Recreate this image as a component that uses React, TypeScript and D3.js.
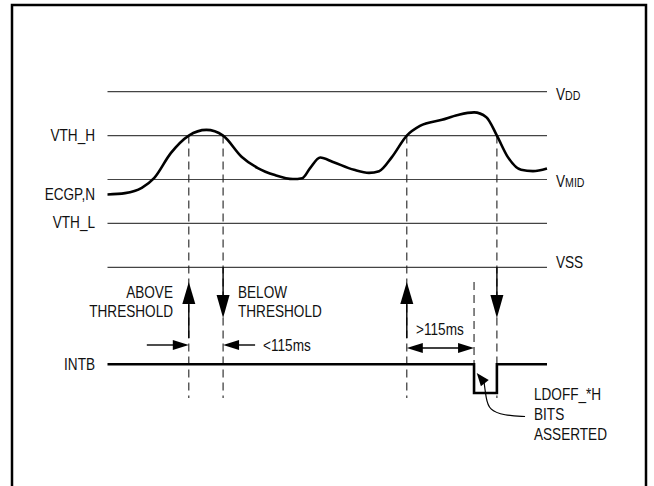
import * as d3 from 'd3';
import React from 'react';

// analog levels (arbitrary units, evenly spaced)
const levelNames = ['VSS', 'VTH_L', 'VMID', 'VTH_H', 'VDD'];
const levelValues = [0, 1, 2, 3, 4];

// ECGP,N waveform (time 0..100, level units)
const waveTime = [0, 4, 7.8, 10.6, 14.4, 18.5, 22.5, 26.3, 30.5, 34.2, 38.1, 42.2, 44.3, 46.1, 48.4, 51.3, 56.1, 59.5, 61.8, 64.7, 68.1, 71.1, 76.1, 79.7, 83.4, 86.2, 88.6, 91.1, 94.1, 96.8, 100];
const waveVolt = [1.66, 1.69, 1.81, 2.03, 2.6, 3.0, 3.13, 3.0, 2.52, 2.26, 2.1, 2.01, 2.03, 2.26, 2.5, 2.4, 2.22, 2.15, 2.19, 2.51, 3.0, 3.22, 3.36, 3.47, 3.53, 3.42, 3.0, 2.51, 2.22, 2.19, 2.25];

// INTB digital line
const intbTime = [0, 83.4, 88.6, 100];
const intbLevel = [1, 0, 1, 1];

// threshold crossings
const crossTime = [18.5, 26.3, 68.1, 88.6];
const crossDir = ['up', 'down', 'up', 'down'];
const assertTime = 83.4;

const FONT = "'Liberation Sans', Arial, sans-serif";
const SQUEEZE = 0.85; // no narrow face installed, so squeeze the regular one

// triangle with tip at (x,y), pointing along (dx,dy)
function arrowHead(x: number, y: number, dx: number, dy: number, len: number, half: number) {
  const n = Math.hypot(dx, dy);
  const ux = dx / n, uy = dy / n;
  const bx = x - ux * len, by = y - uy * len;
  const px = -uy * half, py = ux * half;
  return `M${x},${y}L${bx + px},${by + py}L${bx - px},${by - py}Z`;
}

const Label = ({ x, y, anchor = 'start', children }: { x: number, y: number, anchor?: string, children: React.ReactNode }) => (
  <g transform={`translate(${x},${y}) scale(${SQUEEZE},1)`}>
    <text x={0} y={0} fontSize={16} textAnchor={anchor} fill="#111">{children}</text>
  </g>
);

const App = () => {
  const x = d3.scaleLinear().domain([0, 100]).range([107.5, 547]);
  const y = d3.scaleLinear().domain([0, 4]).range([267.3, 91.7]);
  const yDig = d3.scaleLinear().domain([0, 1]).range([393, 364.3]);

  const wave = d3.line<number>()
    .x((d, i) => x(waveTime[i]))
    .y(d => y(d))
    .curve(d3.curveMonotoneX)(waveVolt) as string;

  const intb = d3.line<number>()
    .x((d, i) => x(intbTime[i]))
    .y(d => yDig(d))
    .curve(d3.curveStepAfter)(intbLevel) as string;

  const dashBottom = 398;
  const upTip = 282, upBase = 304, upSolidEnd = 338;
  const downTop = y(0), downBase = 295, downTip = 318;
  const hArrowY = 345, dblArrowY = 348;

  const xa = x(assertTime);
  const callout = d3.line().curve(d3.curveBasis)([
    [xa + 10, 382], [xa + 12, 398], [xa + 15, 410], [xa + 30, 415.5], [xa + 51, 416.5],
  ]) as string;

  const rightLabel = (name: string, v: number, dy: number) => {
    const sub = name === 'VDD' ? 'DD' : name === 'VMID' ? 'MID' : null;
    return (
      <Label key={name} x={556} y={y(v) + dy}>
        {sub ? <>V<tspan fontSize={12.5}>{sub}</tspan></> : name}
      </Label>
    );
  };

  return (
    <svg width={654} height={486} style={{ position: 'absolute', left: 0, top: 0 }} fontFamily={FONT}>
      <rect width={654} height={486} fill="#fff" />
      <path d="M12,486V5H646V486" fill="none" stroke="#000" strokeWidth={2.5} />

      {levelValues.map((v, i) => (
        <line key={levelNames[i]} x1={x(0)} x2={x(100)} y1={y(v)} y2={y(v)} stroke="#444" strokeWidth={1.2} />
      ))}

      {/* dashed event lines */}
      {crossTime.map(t => (
        <line key={'d' + t} x1={x(t)} x2={x(t)} y1={y(3)} y2={dashBottom} stroke="#222" strokeWidth={1.1} strokeDasharray="8,5" />
      ))}
      <line x1={xa} x2={xa} y1={upTip} y2={yDig(0)} stroke="#222" strokeWidth={1.1} strokeDasharray="8,5" />

      {/* vertical arrows */}
      {crossTime.map((t, i) => {
        const cx = x(t);
        if (crossDir[i] === 'up') {
          return (
            <g key={'a' + t}>
              <line x1={cx} x2={cx} y1={upBase} y2={upSolidEnd} stroke="#000" strokeWidth={1.4} />
              <path d={arrowHead(cx, upTip, 0, -1, upBase - upTip, 6.5)} fill="#000" />
            </g>
          );
        }
        return (
          <g key={'a' + t}>
            <line x1={cx} x2={cx} y1={downTop} y2={downBase} stroke="#000" strokeWidth={1.4} />
            <path d={arrowHead(cx, downTip, 0, 1, downTip - downBase, 6.5)} fill="#000" />
          </g>
        );
      })}

      {/* <115ms arrows */}
      <line x1={x(crossTime[0]) - 42} x2={x(crossTime[0]) - 14} y1={hArrowY} y2={hArrowY} stroke="#000" strokeWidth={1.4} />
      <path d={arrowHead(x(crossTime[0]), hArrowY, 1, 0, 16, 5)} fill="#000" />
      <line x1={x(crossTime[1]) + 14} x2={x(crossTime[1]) + 32} y1={hArrowY} y2={hArrowY} stroke="#000" strokeWidth={1.4} />
      <path d={arrowHead(x(crossTime[1]), hArrowY, -1, 0, 16, 5)} fill="#000" />
      <Label x={x(crossTime[1]) + 40} y={hArrowY + 5.5}>&lt;115ms</Label>

      {/* >115ms double arrow */}
      <line x1={x(crossTime[2]) + 14} x2={xa - 14} y1={dblArrowY} y2={dblArrowY} stroke="#000" strokeWidth={1.4} />
      <path d={arrowHead(x(crossTime[2]), dblArrowY, -1, 0, 16, 5)} fill="#000" />
      <path d={arrowHead(xa, dblArrowY, 1, 0, 16, 5)} fill="#000" />
      <Label x={(x(crossTime[2]) + xa) / 2 - 0.5} y={335} anchor="middle">&gt;115ms</Label>

      {/* signals */}
      <path d={wave} fill="none" stroke="#000" strokeWidth={2.6} />
      <path d={intb} fill="none" stroke="#000" strokeWidth={2.6} />

      {/* callout */}
      <path d={callout} fill="none" stroke="#000" strokeWidth={1.2} />
      <path d={arrowHead(xa + 2.7, 373, -7.3, -9.2, 13, 5)} fill="#000" />

      {/* left labels */}
      <Label x={95} y={y(3) + 5.5} anchor="end">VTH_H</Label>
      <Label x={95} y={y(waveVolt[0]) + 6} anchor="end">ECGP,N</Label>
      <Label x={95} y={y(1) + 5} anchor="end">VTH_L</Label>
      <Label x={95} y={yDig(1) + 5.5} anchor="end">INTB</Label>
      <Label x={173} y={298} anchor="end">ABOVE</Label>
      <Label x={173} y={317} anchor="end">THRESHOLD</Label>

      <Label x={238} y={298}>BELOW</Label>
      <Label x={238} y={317}>THRESHOLD</Label>
      <Label x={534} y={400}>LDOFF_*H</Label>
      <Label x={534} y={420}>BITS</Label>
      <Label x={534} y={440}>ASSERTED</Label>

      {rightLabel('VDD', 4, 8.3)}
      {rightLabel('VMID', 2, 7)}
      {rightLabel('VSS', 0, 1)}
    </svg>
  );
};

export default App;
